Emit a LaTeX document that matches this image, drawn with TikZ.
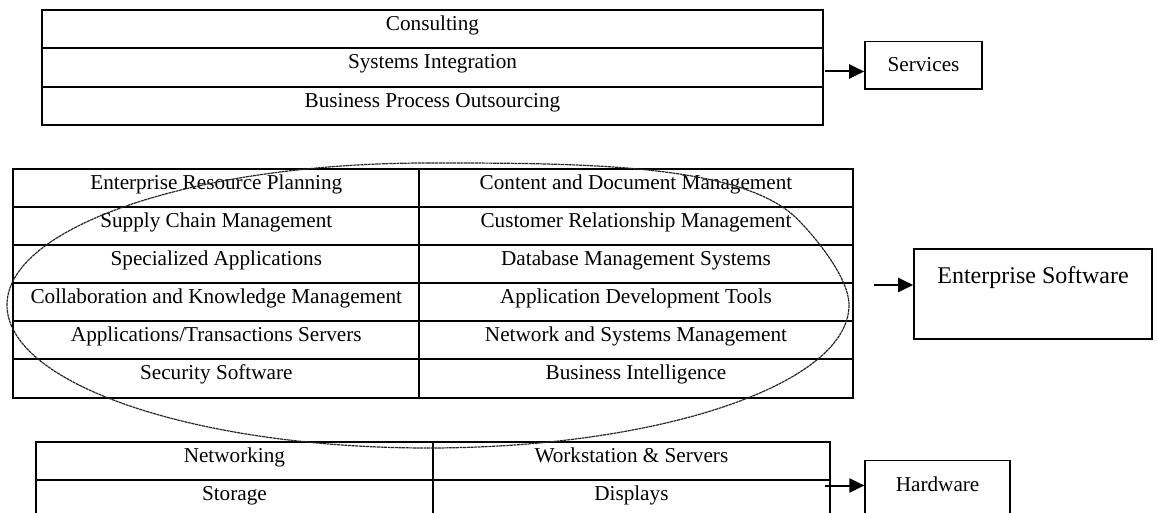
\documentclass[tikz,border=0pt]{standalone}
\usepackage{fontspec}
\setmainfont{Liberation Serif}
\usepackage{tikz}
\usetikzlibrary{arrows.meta}

\begin{document}
\begin{tikzpicture}[x=0.5pt, y=-0.5pt]
		\tikzset{
		    cell/.style= {rectangle, draw, line width=1pt, inner sep=0pt, text height=7.5pt, text depth=6.2pt, font=\fontsize{10.6}{12.7}\selectfont},
		    srow/.style= {cell, minimum width=390.8pt, minimum height=19.17pt},
		    lcol/.style= {cell, minimum width=203pt, minimum height=19.04pt},
		    rcol/.style= {cell, minimum width=216.7pt, minimum height=19.04pt},
		    hcol/.style= {cell, minimum width=198.5pt, minimum height=19pt},
		    group/.style= {rectangle, draw, line width=0.8pt, inner sep=0pt, text height=7.5pt},
		    link/.style= {-{Triangle[length=7.5pt, width=7pt]}, line width=1pt},
		    halo/.style= {line width=0.6pt, black!85, dash pattern=on 1.5pt off 0.3pt},
		}
		\useasboundingbox (0,0) rectangle (1157,513);
		\clip (0,0) rectangle (1157,513);
		
		\node[srow] (consult) at (432.5, 29.2) {Consulting};
		\node[srow] (sysint) at (432.5, 67.5) {Systems Integration};
		\node[srow] (bpo) at (432.5, 105.8) {Business Process Outsourcing};
		
		\node[lcol] (erp) at (216.3, 188.0) {Enterprise Resource Planning};
		\node[lcol] (scm) at (216.3, 226.1) {Supply Chain Management};
		\node[lcol] (spec) at (216.3, 264.2) {Specialized Applications};
		\node[lcol] (collab) at (216.3, 302.3) {Collaboration and Knowledge Management};
		\node[lcol] (appsrv) at (216.3, 340.4) {Applications/Transactions Servers};
		\node[lcol] (secsw) at (216.3, 378.5) {Security Software};
		
		\node[rcol] (cdm) at (636, 188.0) {Content and Document Management};
		\node[rcol] (crm) at (636, 226.1) {Customer Relationship Management};
		\node[rcol] (dbms) at (636, 264.2) {Database Management Systems};
		\node[rcol] (adt) at (636, 302.3) {Application Development Tools};
		\node[rcol] (nsm) at (636, 340.4) {Network and Systems Management};
		\node[rcol] (bi) at (636, 378.5) {Business Intelligence};
		
		\node[hcol] (netw) at (234.4, 461) {Networking};
		\node[hcol] (wkst) at (631.4, 461) {Workstation \& Servers};
		\node[hcol] (stor) at (234.4, 499) {Storage};
		\node[hcol] (disp) at (631.4, 499) {Displays};
		
		\node[group, minimum width=58.5pt, minimum height=23.85pt, text depth=1pt, font=\fontsize{10.6}{12.7}\selectfont] (services) at (923.5, 65.2) {Services};
		\node[group, minimum width=119pt, minimum height=45pt, text height=8pt, text depth=18.7pt, font=\fontsize{12}{14.4}\selectfont] (entsw) at (1033, 294) {Enterprise Software};
		\node[group, minimum width=72.4pt, minimum height=35pt, text depth=11.1pt, font=\fontsize{10.6}{12.7}\selectfont] (hardware) at (937.6, 495.3) {Hardware};
		
		\draw[halo] (428,163) .. controls (574,163) and (733.6,163) .. (793,215)
		.. controls (807.9,228.4) and (849,275) .. (849,305)
		.. controls (849,384) and (660.5,448) .. (428,448)
		.. controls (195.5,448) and (7,384) .. (7,305)
		.. controls (7,226.6) and (195.5,163) .. cycle;
		
		\coordinate (srvtail) at (825, 71.5);
		\coordinate (enttail) at (874, 285);
		\coordinate (hwtail) at (825, 485.5);
		
		\draw
		(srvtail) edge[link] (srvtail -| services.west)
		(enttail) edge[link] (enttail -| entsw.west)
		(hwtail) edge[link] (hwtail -| hardware.west);
	\end{tikzpicture}
\end{document}
